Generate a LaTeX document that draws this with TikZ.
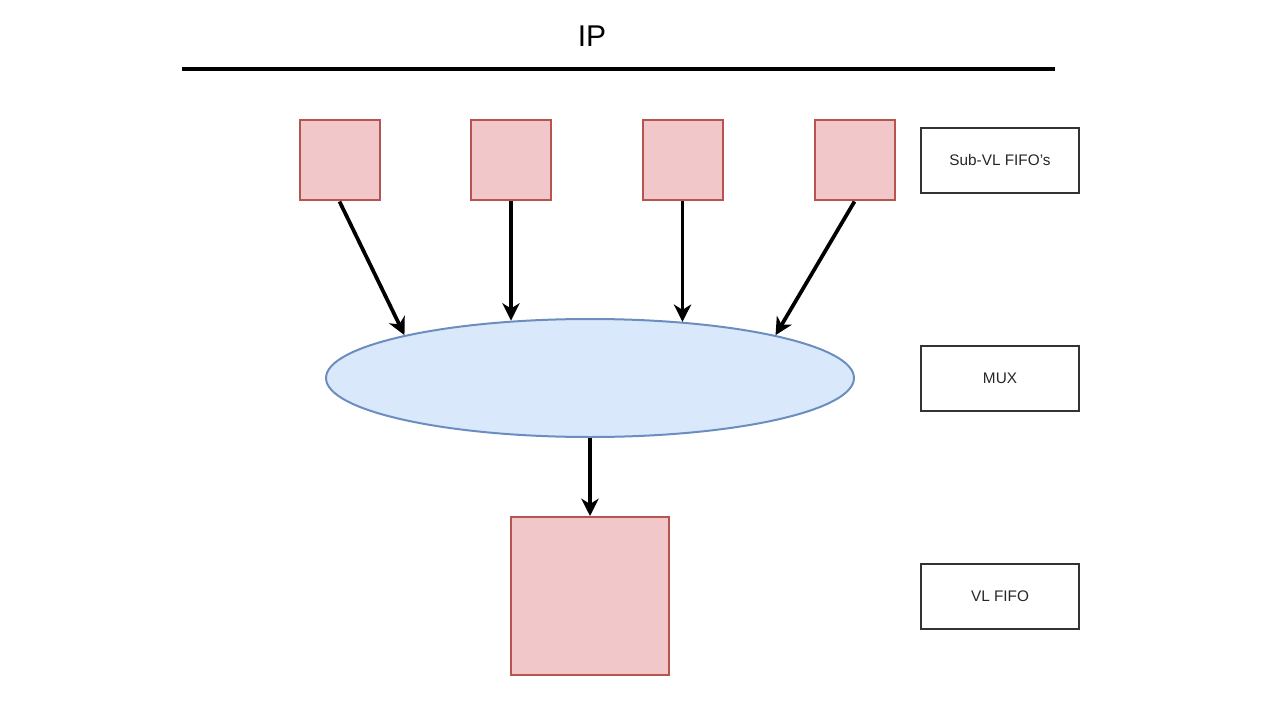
\documentclass[tikz,border=0pt]{standalone}
\usepackage{fontspec}
\setmainfont{Liberation Sans}
\usetikzlibrary{shapes.geometric,arrows.meta}
\definecolor{pinkfill}{HTML}{F2C7CA}
\definecolor{pinkline}{HTML}{B85450}
\definecolor{bluefill}{HTML}{DAE8FC}
\definecolor{blueline}{HTML}{6C8EBF}
\definecolor{labelline}{HTML}{333333}
\tikzset{
  fifo/.style={draw=pinkline, fill=pinkfill, line width=1.5pt, minimum size=60pt, inner sep=0pt},
  bigfifo/.style={fifo, minimum size=118.5pt},
  mux/.style={ellipse, draw=blueline, fill=bluefill, line width=1.5pt, minimum width=396pt, minimum height=88.5pt, inner sep=0pt},
  lbl/.style={draw=labelline, line width=0.9pt, minimum width=118.5pt, minimum height=48.75pt, inner sep=0pt, font=\fontsize{11.5}{14}\selectfont, text=black!85},
  conn/.style={line width=2.8pt, -{Stealth[length=13pt,width=13pt,inset=4pt]}}
}
\begin{document}
\begin{tikzpicture}[x=0.75pt,y=-0.75pt]
\useasboundingbox (0,0) rectangle (1280,720);
\node[font=\fontsize{22.5}{26}\selectfont] (ip) at (592,36) {IP};
\coordinate (la) at (182,69);
\coordinate (lb) at (1055,69);
\draw[line width=2.3pt] (la) -- (lb);

\node[fifo] (b1) at (339.5,160.5) {};
\node[fifo] (b2) at (511,160.5) {};
\node[fifo] (b3) at (682.5,160.5) {};
\node[fifo] (b4) at (854.5,160.5) {};

\node[mux] (e) at (590,378) {};
\node[bigfifo] (big) at (590,596) {};

\node[lbl] (l1) at (1000,160.5) {Sub-VL FIFO's};
\node[lbl] (l2) at (1000,378.5) {MUX};
\node[lbl] (l3) at (1000,596.5) {VL FIFO};

\draw[conn] (b1.south) -- (e.167.6);
\draw[conn] (b2.south) -- (b2.south |- e.143.7);
\draw[conn] (b3.south) -- (b3.south |- e.31.5);
\draw[conn] (b4.south) -- (e.13.25);
\draw[conn] (e.south) -- (big.north);
\end{tikzpicture}
\end{document}
